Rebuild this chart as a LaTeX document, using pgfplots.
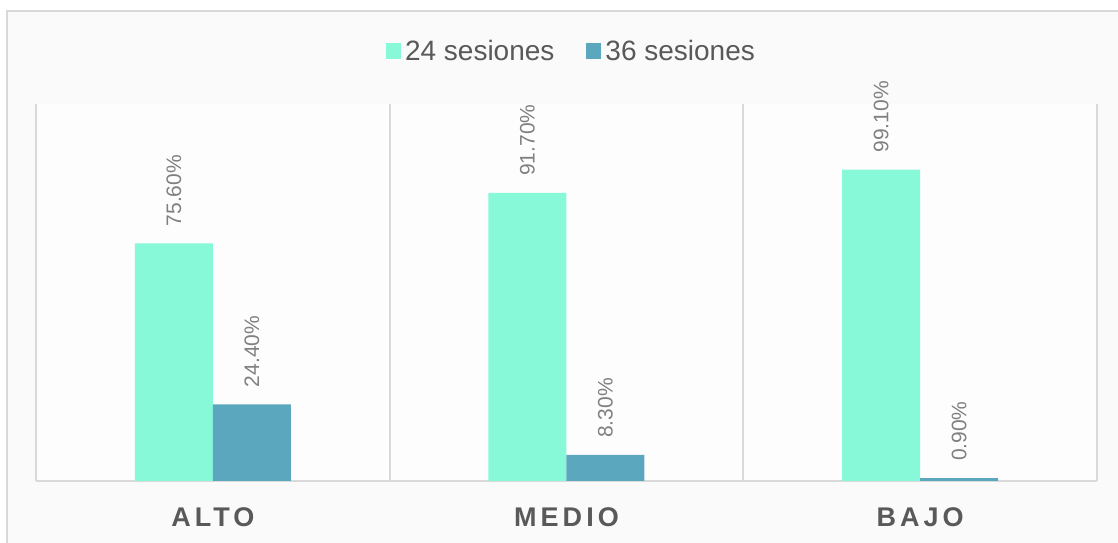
\documentclass[border=0pt]{standalone}
\usepackage{fontspec}
\setmainfont{Liberation Sans}
\newfontfamily\catfont[LetterSpace=15]{Liberation Sans}
\usepackage{pgfplots}
\pgfplotsset{compat=1.18}
\definecolor{cgreen}{HTML}{87F9D9}
\definecolor{cblue}{HTML}{5BA7BE}
\definecolor{cgrid}{HTML}{D9D9D9}
\definecolor{ctext}{HTML}{595959}
\definecolor{clabel}{HTML}{808080}
\definecolor{outerbg}{HTML}{FAFAFA}
\definecolor{innerbg}{HTML}{FDFDFD}
\begin{document}
\begin{tikzpicture}
\useasboundingbox (0,0) rectangle (1118bp,543bp);
\fill[outerbg] (7bp,-10bp) rectangle (1130bp,532bp);
\draw[cgrid, line width=2bp] (7bp,-10bp) -- (7bp,532bp) -- (1130bp,532bp);
\begin{axis}[
  at={(36bp,62bp)}, anchor=south west,
  scale only axis, width=1061bp, height=377bp,
  clip=false,
  /pgf/number format/assume math mode=true,
  ybar=0pt, bar width=78bp,
  xmin=-0.5, xmax=2.5, ymin=0, ymax=120,
  axis background/.style={fill=innerbg},
  axis x line*=bottom, axis y line=none,
  axis line style={cgrid, line width=2bp},
  xtick={0,1,2}, xticklabels={ALTO,MEDIO,BAJO},
  major tick length=0pt, minor tick length=0pt,
  minor xtick={-0.5,0.5,1.5,2.5},
  xminorgrids=true,
  minor grid style={cgrid, line width=2bp},
  xticklabel style={font=\catfont\bfseries\fontsize{27bp}{30bp}\selectfont, text=ctext, anchor=base, yshift=-45bp},
  nodes near coords={\pgfmathprintnumber[fixed,fixed zerofill,precision=2,assume math mode=true]{\pgfplotspointmeta}\%},
  every node near coord/.append style={rotate=90, anchor=west, inner xsep=17bp, inner ysep=0pt, text=clabel, font=\fontsize{21bp}{24bp}\selectfont},
  legend columns=-1,
  legend style={at={(0.5047,1.1406)}, anchor=center, draw=none, fill=none,
    font=\fontsize{28bp}{31bp}\selectfont, text=ctext,
    /tikz/every odd column/.append style={column sep=2bp},
    /tikz/every even column/.append style={column sep=30bp}},
  legend image code/.code={\fill[#1] (0bp,-8bp) rectangle (15bp,8bp);},
]
\addplot[fill=cgreen, draw=none] coordinates {(0,75.6) (1,91.7) (2,99.1)};
\addplot[fill=cblue, draw=none] coordinates {(0,24.4) (1,8.3) (2,0.9)};
\legend{24 sesiones, 36 sesiones}
\end{axis}
\end{tikzpicture}
\end{document}
